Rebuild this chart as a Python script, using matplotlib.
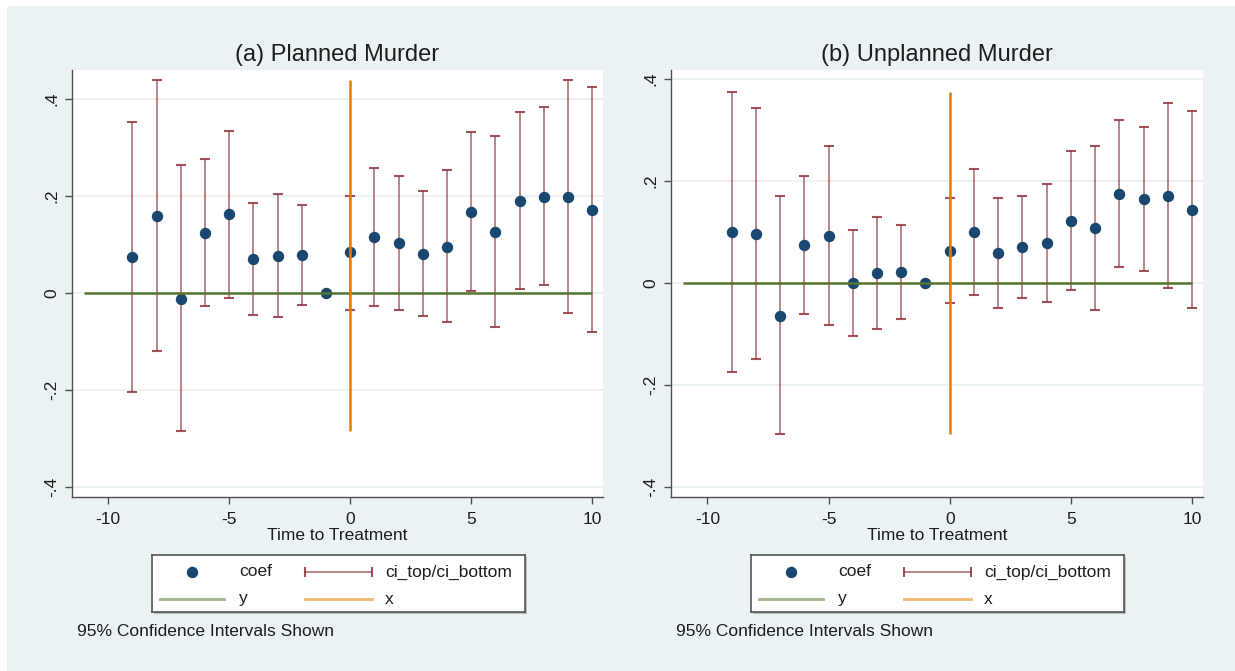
import numpy as np
import matplotlib
matplotlib.use("Agg")
import matplotlib.pyplot as plt
from matplotlib.patches import Rectangle

plt.rcParams['font.family'] = ['Liberation Sans', 'DejaVu Sans']

# ---- data -------------------------------------------------------------
periods = list(range(-9, 11))

planned_coef = [0.074, 0.159, -0.011, 0.125, 0.163, 0.070, 0.077, 0.078, 0.0,
                0.084, 0.115, 0.103, 0.081, 0.096, 0.168, 0.127, 0.191, 0.199,
                0.199, 0.172]
planned_top = [0.353, 0.439, 0.265, 0.277, 0.335, 0.185, 0.204, 0.181, np.nan,
               0.201, 0.259, 0.241, 0.210, 0.254, 0.333, 0.324, 0.374, 0.383,
               0.439, 0.425]
planned_bottom = [-0.203, -0.119, -0.285, -0.027, -0.009, -0.044, -0.050, -0.024,
                  np.nan, -0.034, -0.027, -0.035, -0.047, -0.060, 0.004, -0.069,
                  0.008, 0.016, -0.040, -0.080]

unplanned_coef = [0.100, 0.096, -0.064, 0.074, 0.093, 0.000, 0.020, 0.022, 0.0,
                  0.063, 0.100, 0.058, 0.070, 0.079, 0.122, 0.107, 0.175, 0.164,
                  0.171, 0.143]
unplanned_top = [0.375, 0.344, 0.170, 0.209, 0.268, 0.104, 0.129, 0.113, np.nan,
                 0.167, 0.224, 0.167, 0.170, 0.195, 0.259, 0.268, 0.319, 0.306,
                 0.354, 0.337]
unplanned_bottom = [-0.174, -0.149, -0.296, -0.060, -0.083, -0.104, -0.090, -0.070,
                    np.nan, -0.040, -0.023, -0.049, -0.029, -0.037, -0.013, -0.053,
                    0.031, 0.024, -0.010, -0.050]

titles = ["(a) Planned Murder", "(b) Unplanned Murder"]
x_ticks = [-10, -5, 0, 5, 10]
y_ticks = [-0.4, -0.2, 0.0, 0.2, 0.4]
y_ticklabels = ["-.4", "-.2", "0", ".2", ".4"]
legend_labels = ["coef", "ci_top/ci_bottom", "y", "x"]
note = "95% Confidence Intervals Shown"

# ---- style ------------------------------------------------------------
W, H = 1235, 671
BG = "#EAF2F3"
NAVY = "#1a476f"
MAROON = "#90353b"
GREEN = "#55752f"
ORANGE = "#e37e00"
TXT = "#1e1e1e"
AXC = "#505050"
FS = 12.5

fig = plt.figure(figsize=(W / 100, H / 100), dpi=100, facecolor="white")
fig.patches.append(Rectangle((7 / W, 0), 1 - 7 / W, 1 - 6 / H,
                             transform=fig.transFigure, facecolor=BG,
                             edgecolor="none", zorder=-10))


def px_box(x0, y0, x1, y1):
    """Pixel box (from top-left) to figure-fraction rect."""
    return [x0 / W, (H - y1) / H, (x1 - x0) / W, (y1 - y0) / H]


panels = [
    (planned_coef, planned_top, planned_bottom, (72, 603), (-0.42, 0.46)),
    (unplanned_coef, unplanned_top, unplanned_bottom, (671, 1203), (-0.42, 0.418)),
]

for i, (coef, top, bottom, (xl, xr), ylim) in enumerate(panels):
    ax = fig.add_axes(px_box(xl, 70, xr, 497))
    ax.set_zorder(1)
    ax.set_facecolor("white")
    ax.set_xlim(-11.5, 10.45)
    ax.set_ylim(*ylim)

    for yt in y_ticks:
        ax.axhline(yt, color=BG, lw=1.5, zorder=1)

    top_a = np.array(top)
    bot_a = np.array(bottom)
    ok = ~np.isnan(top_a)
    xs = np.array(periods)[ok]

    # confidence interval caps (rcap)
    ax.vlines(xs, bot_a[ok], top_a[ok], color=MAROON, lw=1.4, alpha=0.6, zorder=2)
    ax.plot(xs, top_a[ok], ls="none", marker="_", ms=6.5, mew=1.5,
            color=MAROON, alpha=0.85, zorder=2)
    ax.plot(xs, bot_a[ok], ls="none", marker="_", ms=6.5, mew=1.5,
            color=MAROON, alpha=0.85, zorder=2)

    # point estimates
    ax.plot(periods, coef, ls="none", marker="o", ms=7.2, color=NAVY,
            mec=NAVY, zorder=3)

    # zero reference line and treatment line
    ax.hlines(0, -11, 10, color=GREEN, lw=1.8, zorder=4)
    ax.vlines(0, np.nanmin(bot_a), np.nanmax(top_a), color=ORANGE, lw=1.8, zorder=5)

    for s in ["top", "right"]:
        ax.spines[s].set_visible(False)
    for s in ["left", "bottom"]:
        ax.spines[s].set_color(AXC)
        ax.spines[s].set_linewidth(1.0)

    ax.set_xticks(x_ticks)
    ax.set_xticklabels([str(t) for t in x_ticks])
    ax.set_yticks(y_ticks)
    ax.set_yticklabels(y_ticklabels)
    ax.tick_params(axis="both", direction="out", length=5, width=1, color=AXC,
                   labelsize=FS, labelcolor=TXT)
    ax.tick_params(axis="x", pad=6)
    ax.tick_params(axis="y", pad=4, labelrotation=90)
    for lab in ax.get_yticklabels():
        lab.set_va("center")

    cx = (xl + xr) / 2
    fig.text(cx / W, 1 - 55 / H, titles[i], ha="center", va="center",
             fontsize=17, color=TXT)
    fig.text(cx / W, 1 - 536 / H, "Time to Treatment", ha="center", va="center",
             fontsize=FS, color=TXT)

    # legend box
    lx0 = xl + 80
    fig.patches.append(Rectangle(((lx0 + 2) / W, (H - 614) / H), 373 / W, 57 / H,
                                 transform=fig.transFigure, facecolor="#b8bcbe",
                                 edgecolor="none", zorder=-5))
    lax = fig.add_axes(px_box(lx0, 555, lx0 + 373, 612))
    lax.set_zorder(1)
    lax.set_xlim(0, 373)
    lax.set_ylim(57, 0)
    lax.set_facecolor("white")
    lax.set_xticks([])
    lax.set_yticks([])
    for s in lax.spines.values():
        s.set_color("#555555")
        s.set_linewidth(1.2)
    r1, r2 = 17, 44
    lax.plot([40], [r1], marker="o", ms=7.2, color=NAVY, ls="none")
    lax.plot([153, 220], [r1, r1], color=MAROON, lw=1.3, alpha=0.65)
    lax.plot([153, 220], [r1, r1], ls="none", marker="|", ms=6.5, mew=1.5,
             color=MAROON, alpha=0.85)
    lax.plot([8, 72], [r2, r2], color=GREEN, lw=2, alpha=0.55)
    lax.plot([153, 220], [r2, r2], color=ORANGE, lw=2, alpha=0.55)
    lax.text(87, r1, legend_labels[0], va="center", ha="left", fontsize=FS, color=TXT)
    lax.text(233, r1, legend_labels[1], va="center", ha="left", fontsize=FS, color=TXT)
    lax.text(87, r2, legend_labels[2], va="center", ha="left", fontsize=FS, color=TXT)
    lax.text(233, r2, legend_labels[3], va="center", ha="left", fontsize=FS, color=TXT)

    fig.text((xl + 5) / W, 1 - 631 / H, note, ha="left", va="center",
             fontsize=FS, color=TXT)

fig.savefig("out.png", dpi=100, facecolor=fig.get_facecolor())
